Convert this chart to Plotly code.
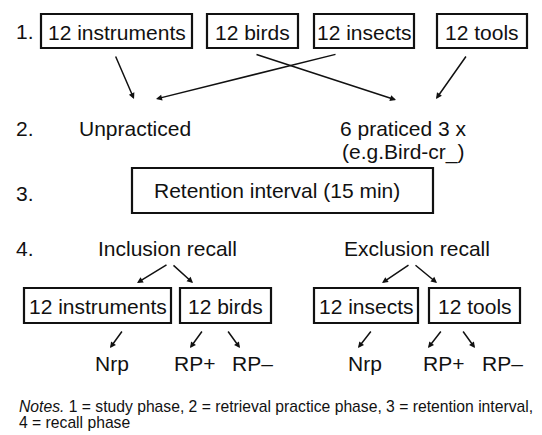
import plotly.graph_objects as go

# ---- content ----
step_labels = ["1.", "2.", "3.", "4."]
study_categories = ["12 instruments", "12 birds", "12 insects", "12 tools"]
practice_labels = ["Unpracticed", "6 praticed 3 x", "(e.g.Bird-cr_)"]
retention_label = "Retention interval (15 min)"
recall_labels = ["Inclusion recall", "Exclusion recall"]
recall_categories = ["12 instruments", "12 birds", "12 insects", "12 tools"]
item_types = ["Nrp", "RP+", "RP\u2013", "Nrp", "RP+", "RP\u2013"]
note_lines = ["<i>Notes.</i> 1 = study phase, 2 = retrieval practice phase, 3 = retention interval,",
              "4 = recall phase"]

# ---- layout (pixel coordinates) ----
W, H = 542, 435
FONT = "Liberation Sans, Arial, Helvetica, sans-serif"
FS = 21
step_pos = [(14, 31), (14, 128), (14, 193), (14, 248)]
study_boxes = [(41, 192), (207, 298), (314, 414), (437, 527)]
study_y = (14, 48)
practice_pos = [(135, 128), (403, 128), (403, 152)]
retention_box = (132, 433, 168, 213)
retention_text_x = 277
recall_pos = [(167, 248), (417, 248)]
recall_boxes = [(24, 171), (180, 271), (314, 418), (429, 520)]
recall_y = (288, 323)
item_pos = [(112, 363), (194, 363), (252, 363), (365, 363), (443, 363), (502, 363)]
note_pos = [(17, 406), (17, 422)]

# arrows: (tail_x, tail_y, head_x, head_y)
arrows = [
    (115, 55, 134, 99),
    (337, 54, 156, 99),
    (255, 54, 396, 100),
    (467, 55, 436, 99),
    (168, 264, 137, 283),
    (172, 264, 193, 283),
    (410, 264, 382, 283),
    (414, 264, 437, 283),
    (123, 330, 110, 348),
    (203, 330, 190, 348),
    (227, 330, 240, 348),
    (372, 330, 358, 348),
    (442, 330, 428, 348),
    (462, 330, 475, 348),
]

fig = go.Figure()
shapes = []
annotations = []

def text(x, y, s, size=FS, xanchor="center"):
    annotations.append(dict(x=x, y=y, text=s, showarrow=False, xanchor=xanchor,
                            yanchor="middle", font=dict(family=FONT, size=size, color="#111111")))

def box(x0, x1, y0, y1):
    shapes.append(dict(type="rect", x0=x0, x1=x1, y0=y0, y1=y1, xref="x", yref="y",
                       line=dict(color="#111111", width=2.2), fillcolor="rgba(0,0,0,0)"))

for lbl, (x, y) in zip(step_labels, step_pos):
    text(x, y, lbl, xanchor="left")

for lbl, (x0, x1) in zip(study_categories, study_boxes):
    box(x0, x1, *study_y)
    text((x0 + x1) / 2, sum(study_y) / 2 + 1, lbl)

for lbl, (x, y) in zip(practice_labels, practice_pos):
    text(x, y, lbl)

rx0, rx1, ry0, ry1 = retention_box
box(rx0, rx1, ry0, ry1)
text(retention_text_x, (ry0 + ry1) / 2, retention_label)

for lbl, (x, y) in zip(recall_labels, recall_pos):
    text(x, y, lbl)

for lbl, (x0, x1) in zip(recall_categories, recall_boxes):
    box(x0, x1, *recall_y)
    text((x0 + x1) / 2, sum(recall_y) / 2 + 1, lbl)

for lbl, (x, y) in zip(item_types, item_pos):
    text(x, y, lbl)

for lbl, (x, y) in zip(note_lines, note_pos):
    text(x, y, lbl, size=15.7, xanchor="left")

for tx, ty, hx, hy in arrows:
    annotations.append(dict(x=hx, y=hy, ax=tx, ay=ty, xref="x", yref="y", axref="x", ayref="y",
                            text="", showarrow=True, arrowhead=2, arrowsize=0.8, arrowwidth=1.5,
                            arrowcolor="#111111", standoff=0, startstandoff=0))

fig.update_layout(
    width=W, height=H, margin=dict(l=0, r=0, t=0, b=0),
    paper_bgcolor="white", plot_bgcolor="white",
    xaxis=dict(range=[0, W], visible=False, fixedrange=True),
    yaxis=dict(range=[H, 0], visible=False, fixedrange=True),
    shapes=shapes, annotations=annotations, showlegend=False,
)
fig.write_html("out.html", config={"displayModeBar": False, "staticPlot": True},
               post_script="document.body.style.margin='0px';document.body.style.overflow='hidden';")
